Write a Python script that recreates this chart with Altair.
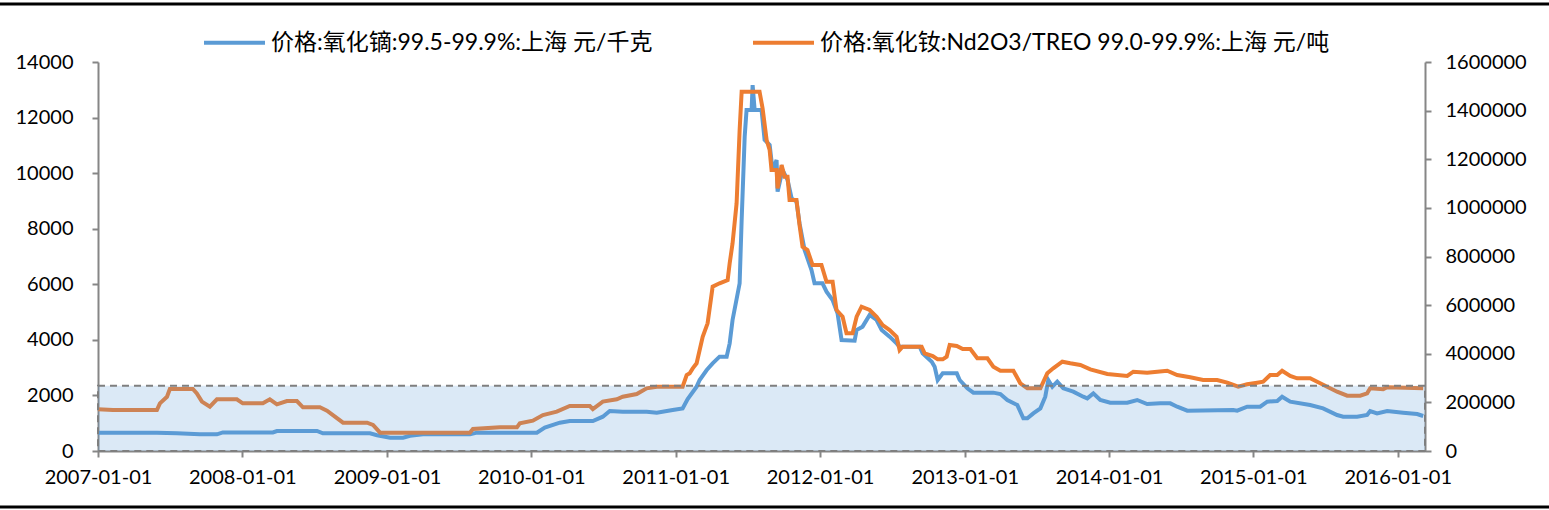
import altair as alt
import pandas as pd

# ---------------- data ----------------
# dates are stored as decimal years
blue_name = "价格:氧化镝:99.5-99.9%:上海 元/千克"
orange_name = "价格:氧化钕:Nd2O3/TREO 99.0-99.9%:上海 元/吨"

blue_t = [2007.000, 2007.408, 2007.547, 2007.706, 2007.824, 2007.865, 2008.211, 2008.239, 2008.516, 2008.557,
          2008.882, 2008.931, 2009.021, 2009.111, 2009.159, 2009.249, 2009.574, 2009.623, 2010.038, 2010.093,
          2010.197, 2010.266, 2010.426, 2010.495, 2010.543, 2010.633, 2010.799, 2010.869, 2010.979, 2011.048,
          2011.083, 2011.145, 2011.166, 2011.215, 2011.256, 2011.304, 2011.353, 2011.374, 2011.394, 2011.443,
          2011.457, 2011.478, 2011.491, 2011.526, 2011.533, 2011.547, 2011.595, 2011.616, 2011.651, 2011.671,
          2011.699, 2011.706, 2011.740, 2011.775, 2011.803, 2011.837, 2011.858, 2011.893, 2011.913, 2011.941,
          2011.962, 2012.017, 2012.045, 2012.087, 2012.121, 2012.149, 2012.239, 2012.253, 2012.294, 2012.343,
          2012.391, 2012.426, 2012.481, 2012.529, 2012.550, 2012.689, 2012.709, 2012.772, 2012.792, 2012.813,
          2012.848, 2012.945, 2012.965, 2013.018, 2013.060, 2013.198, 2013.247, 2013.295, 2013.364, 2013.406,
          2013.434, 2013.475, 2013.524, 2013.558, 2013.579, 2013.607, 2013.641, 2013.683, 2013.752, 2013.821,
          2013.849, 2013.891, 2013.939, 2014.008, 2014.126, 2014.195, 2014.264, 2014.355, 2014.424, 2014.472,
          2014.542, 2014.860, 2014.888, 2014.957, 2015.047, 2015.096, 2015.165, 2015.199, 2015.255, 2015.393,
          2015.483, 2015.580, 2015.622, 2015.719, 2015.788, 2015.809, 2015.857, 2015.927, 2016.037, 2016.134,
          2016.176]
blue_v = [660, 660, 635, 600, 600, 670, 670, 720, 720, 635,
          635, 565, 480, 480, 550, 600, 600, 660, 660, 840,
          1020, 1080, 1080, 1235, 1440, 1415, 1415, 1380, 1475, 1535,
          1870, 2315, 2555, 2915, 3155, 3395, 3395, 3875, 4715, 6035,
          8315, 11315, 12275, 12275, 13170, 12275, 12275, 11195, 11015, 10115,
          10475, 9335, 10115, 9755, 9095, 8975, 8195, 7235, 6935, 6515,
          6035, 6035, 5735, 5435, 4955, 3995, 3970, 4355, 4475, 4895,
          4715, 4355, 4115, 3875, 3755, 3755, 3515, 3215, 3035, 2555,
          2795, 2795, 2555, 2255, 2100, 2100, 2050, 1835, 1655, 1175,
          1175, 1355, 1535, 1955, 2555, 2315, 2495, 2255, 2135, 1955,
          1895, 2075, 1835, 1740, 1740, 1835, 1690, 1715, 1715, 1595,
          1450, 1475, 1450, 1595, 1595, 1775, 1800, 1955, 1775, 1655,
          1535, 1295, 1235, 1235, 1295, 1440, 1355, 1440, 1380, 1330,
          1260]

orange_t = [2007.000, 2007.104, 2007.408, 2007.429, 2007.478, 2007.498, 2007.657, 2007.685, 2007.720, 2007.775,
            2007.824, 2007.962, 2008.003, 2008.142, 2008.190, 2008.239, 2008.308, 2008.377, 2008.419, 2008.536,
            2008.585, 2008.626, 2008.696, 2008.862, 2008.903, 2008.952, 2009.574, 2009.595, 2009.782, 2009.900,
            2009.920, 2010.010, 2010.080, 2010.176, 2010.266, 2010.405, 2010.426, 2010.495, 2010.592, 2010.633,
            2010.730, 2010.799, 2010.869, 2011.048, 2011.076, 2011.097, 2011.118, 2011.145, 2011.187, 2011.221,
            2011.256, 2011.304, 2011.360, 2011.374, 2011.394, 2011.422, 2011.443, 2011.457, 2011.581, 2011.602,
            2011.630, 2011.651, 2011.664, 2011.699, 2011.706, 2011.734, 2011.754, 2011.775, 2011.789, 2011.837,
            2011.858, 2011.879, 2011.913, 2011.948, 2012.010, 2012.045, 2012.087, 2012.114, 2012.156, 2012.183,
            2012.225, 2012.253, 2012.287, 2012.343, 2012.391, 2012.433, 2012.481, 2012.529, 2012.550, 2012.571,
            2012.702, 2012.723, 2012.779, 2012.813, 2012.848, 2012.875, 2012.896, 2012.945, 2012.986, 2013.039,
            2013.087, 2013.157, 2013.198, 2013.247, 2013.337, 2013.385, 2013.434, 2013.524, 2013.572, 2013.613,
            2013.676, 2013.731, 2013.801, 2013.870, 2013.988, 2014.126, 2014.168, 2014.264, 2014.334, 2014.403,
            2014.472, 2014.562, 2014.652, 2014.749, 2014.819, 2014.895, 2014.957, 2015.026, 2015.068, 2015.116,
            2015.165, 2015.199, 2015.255, 2015.303, 2015.393, 2015.442, 2015.511, 2015.580, 2015.650, 2015.740,
            2015.788, 2015.809, 2015.899, 2015.927, 2016.176]
orange_v = [171500, 168600, 168600, 196000, 223000, 255000, 255000, 237000, 203000, 182000,
            212600, 212600, 196000, 196000, 212600, 192000, 205600, 205600, 179700, 179700,
            165800, 148000, 116400, 116400, 107000, 75300, 75300, 90500, 97500, 97500,
            114000, 124600, 148000, 161700, 185000, 185000, 172700, 203000, 212600, 223000,
            234400, 257800, 264500, 264500, 312600, 319600, 340000, 360700, 470000, 525000,
            675800, 689700, 703000, 772000, 854000, 1018800, 1320000, 1478000, 1478000, 1409600,
            1279000, 1238000, 1156000, 1156000, 1080000, 1176000, 1128000, 1128000, 1032000, 1032000,
            929500, 840000, 826700, 765000, 765000, 696300, 696300, 580000, 552400, 484000,
            484000, 552400, 593500, 580000, 552400, 518000, 497700, 470000, 415400, 429000,
            429000, 401800, 390700, 377000, 377000, 388000, 436000, 432000, 419500, 419500,
            381300, 381300, 346700, 330300, 330300, 278400, 257800, 257800, 319600, 340000,
            367400, 360700, 353700, 336000, 316700, 308500, 326200, 322000, 326000, 330000,
            312600, 303000, 292000, 292000, 281000, 264500, 274300, 281000, 285000, 312600,
            312600, 330000, 308500, 299000, 299000, 285000, 264500, 244000, 227500, 227500,
            237000, 258000, 253800, 262000, 258000]

# shaded band (left-axis units)
band_start = ["2007-01-01"]
band_end = ["2016-03-10"]
band_low = [0]
band_high = [2350]

x_ticks = [2007, 2008, 2009, 2010, 2011, 2012, 2013, 2014, 2015, 2016]
left_ticks = [0, 2000, 4000, 6000, 8000, 10000, 12000, 14000]
right_ticks = [0, 200000, 400000, 600000, 800000, 1000000, 1200000, 1400000, 1600000]


def to_date(t):
    y = int(t)
    start = pd.Timestamp(year=y, month=1, day=1)
    days = (pd.Timestamp(year=y + 1, month=1, day=1) - start).days
    return start + pd.Timedelta(days=(t - y) * days)


assert len(blue_t) == len(blue_v) and len(orange_t) == len(orange_v)

blue_df = pd.DataFrame({"date": [to_date(t) for t in blue_t], "value": blue_v, "series": blue_name})
orange_df = pd.DataFrame({"date": [to_date(t) for t in orange_t], "value": orange_v, "series": orange_name})
band_df = pd.DataFrame({"start": pd.to_datetime(band_start), "end": pd.to_datetime(band_end),
                        "lo": band_low, "hi": band_high})

# ---------------- styling ----------------
FONT = "Lato, 'Noto Sans CJK SC', sans-serif"
BLUE = "#5B9BD5"
ORANGE = "#ED7D31"
AXIS_GRAY = "#868686"

x_scale = alt.Scale(domain=[alt.DateTime(year=2007, month=1, date=1),
                            alt.DateTime(year=2016, month=3, date=10)], nice=False)
x_axis = alt.Axis(values=[alt.DateTime(year=y, month=1, date=1) for y in x_ticks],
                  format="%Y-%m-%d", labelAngle=0, tickSize=6, labelPadding=10,
                  labelFlush=False, labelOverlap=False, title=None, grid=False)

legend = alt.Legend(title=None, orient="none", legendX=104, legendY=-52, direction="horizontal",
                    symbolType="stroke", symbolSize=3721, symbolStrokeWidth=4,
                    labelFontSize=23, labelFont=FONT, labelColor="#000000", labelLimit=1000,
                    labelOffset=4, columnPadding=92)
color = alt.Color("series:N", scale=alt.Scale(domain=[blue_name, orange_name], range=[BLUE, ORANGE]),
                  legend=legend)

blue_line = alt.Chart(blue_df).mark_line(strokeWidth=4, interpolate="linear").encode(
    x=alt.X("date:T", scale=x_scale, axis=x_axis),
    y=alt.Y("value:Q", scale=alt.Scale(domain=[0, 14000], nice=False),
            axis=alt.Axis(orient="left", values=left_ticks, format="d", tickSize=6, labelPadding=19,
                          title=None, grid=False)),
    color=color,
)

orange_line = alt.Chart(orange_df).mark_line(strokeWidth=4, interpolate="linear").encode(
    x=alt.X("date:T", scale=x_scale, axis=x_axis),
    y=alt.Y("value:Q", scale=alt.Scale(domain=[0, 1600000], nice=False),
            axis=alt.Axis(orient="right", values=right_ticks, format="d", tickSize=6, labelPadding=14,
                          title=None, grid=False)),
    color=color,
)

band = alt.Chart(band_df).mark_rect(fill=BLUE, fillOpacity=0.22, stroke="#7F7F7F", strokeWidth=2,
                                    strokeDash=[7, 5]).encode(
    x=alt.X("start:T", scale=x_scale, axis=x_axis),
    x2="end:T",
    y=alt.Y("lo:Q", scale=alt.Scale(domain=[0, 14000], nice=False), axis=None),
    y2="hi:Q",
)

top_rule = alt.Chart(band_df).mark_rule(color="#000000", strokeWidth=3).encode(
    x=alt.value(-98), x2=alt.value(1451), y=alt.value(-58))
bottom_rule = alt.Chart(band_df).mark_rule(color="#000000", strokeWidth=3).encode(
    x=alt.value(-98), x2=alt.value(1451), y=alt.value(445))

chart = alt.layer(blue_line, orange_line, band, top_rule, bottom_rule).resolve_scale(
    y="independent"
).properties(
    width=1327, height=389,
    padding={"left": 98, "top": 62, "right": 124, "bottom": 59},
    autosize=alt.AutoSizeParams(type="none"),
    background="#FFFFFF",
).configure_view(stroke=None).configure_axis(
    labelFont=FONT, labelFontSize=20, labelColor="#000000",
    domainColor=AXIS_GRAY, domainWidth=2, tickColor=AXIS_GRAY, tickWidth=2,
)

chart.save("out.html", embed_options={"renderer": "svg", "actions": False})
